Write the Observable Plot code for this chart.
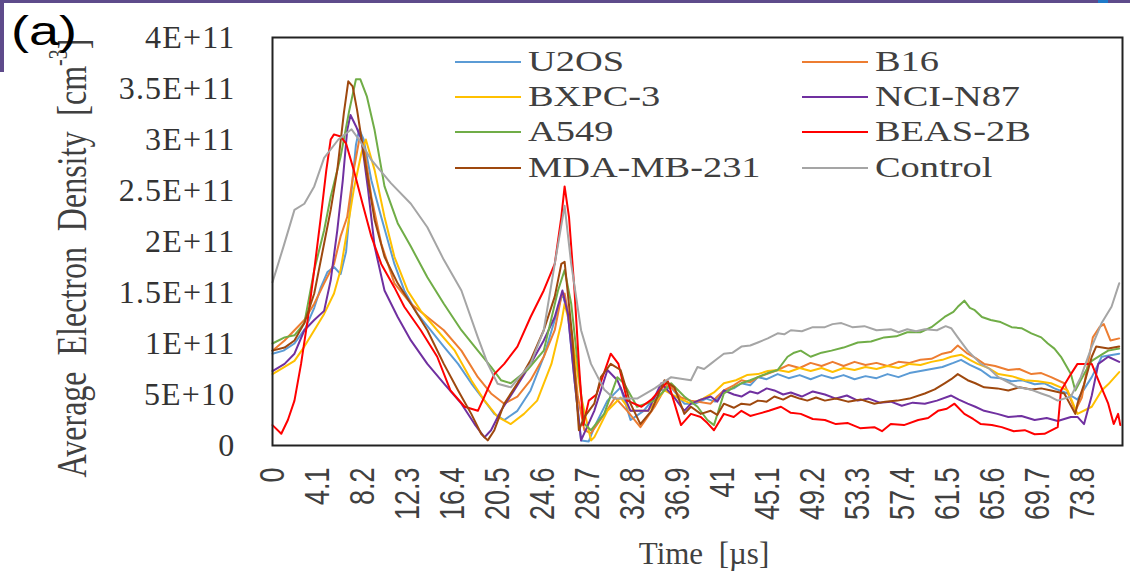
<!DOCTYPE html>
<html><head><meta charset="utf-8">
<script src="https://cdn.jsdelivr.net/npm/d3@7"></script>
<script src="https://cdn.jsdelivr.net/npm/@observablehq/plot@0.6"></script>
<style>
body{margin:0;background:#fff;}
#wrap{position:relative;width:1130px;height:572px;overflow:hidden;background:#fff;}
#wrap svg{position:absolute;left:0;top:0;}
.deco{position:absolute;background:#5e4b8b;}
.lab{position:absolute;font-family:"Liberation Sans",Arial,sans-serif;color:#000;}
.leg{position:absolute;height:0;}
.leg .sw{position:absolute;left:0;top:-1px;width:66px;height:0;border-top:2px solid;}
.leg .tx{position:absolute;left:73px;top:-19px;font-family:"Liberation Serif","Times New Roman",serif;font-size:30px;line-height:36px;color:#404040;white-space:nowrap;transform:scaleX(1.28);transform-origin:left center;}
</style></head><body><div id="wrap"></div><script>
// ---- data (values in units of 1E+10 cm^-3, time in µs) ----
const seriesNames = ["U2OS","B16","BXPC-3","NCI-N87","A549","BEAS-2B","MDA-MB-231","Control"];
const seriesColors = ["#5B9BD5","#ED7D31","#FFC000","#7030A0","#70AD47","#FF0000","#9E480E","#A5A5A5"];
const xTicks = [0,4.1,8.2,12.3,16.4,20.5,24.6,28.7,32.8,36.9,41,45.1,49.2,53.3,57.4,61.5,65.6,69.7,73.8];
const yTicks = [0,5e10,1e11,1.5e11,2e11,2.5e11,3e11,3.5e11,4e11];
const yTickLabels = ["0","5E+10","1E+11","1.5E+11","2E+11","2.5E+11","3E+11","3.5E+11","4E+11"];

const u2os = [[0,9.0],[1,9.3],[2,10.0],[3,11.5],[3.8,13.5],[4.4,15.5],[5.0,17.0],[5.6,17.5],[6.2,16.8],[6.7,19],[7.2,25],[7.6,29.5],[7.9,31.0],[8.3,30.0],[9.0,26.0],[9.9,22.4],[11.1,17.8],[12.0,15.2],[13.2,12.9],[14.4,11.3],[15.6,9.7],[16.9,8.0],[18.1,6.1],[19.3,4.4],[20.2,3.1],[21.1,2.5],[22.3,3.4],[23.5,5.4],[24.7,8.7],[25.7,12.3],[26.4,14.9],[26.9,12.9],[27.5,6.4],[28.1,0.5],[28.8,0.4],[29.3,1.8],[30.5,4.4],[31.7,5.7],[32.6,2.5],[33.8,3.4],[35.3,5.4],[36.3,5.7],[37.5,4.1],[38.5,4.1],[39.5,4.6],[40.3,4.3],[41.1,5.4],[42.0,5.6],[42.7,6.1],[43.5,5.9],[44.2,6.7],[45.0,6.5],[46.0,7.0],[47.0,6.6],[48.0,6.9],[49.0,6.5],[50.0,6.9],[51.0,6.6],[52.0,6.9],[53.0,6.5],[54.0,6.8],[55.0,6.6],[56.0,7.0],[57.0,6.7],[58.0,7.1],[59.0,7.3],[60.0,7.5],[61.0,7.7],[62.0,8.1],[62.7,8.4],[63.5,7.9],[64.5,7.4],[65.4,6.7],[66.3,6.6],[67.3,6.3],[68.3,6.4],[69.4,6.0],[70.3,6.1],[71.2,5.6],[72.4,5.1],[73.3,4.5],[74.6,6.7],[75.2,8.0],[75.5,8.7],[77.1,9.0]];
const b16 = [[0,9.3],[1.1,10.3],[2.0,11.3],[2.9,12.3],[3.8,13.9],[4.7,15.9],[5.6,17.8],[6.2,20.5],[6.8,22.4],[7.4,27.0],[7.9,30.0],[8.3,29.6],[9.0,24.4],[9.9,19.8],[11.1,15.9],[12.6,13.9],[14.1,12.6],[15.6,11.3],[17.2,9.3],[18.7,6.7],[19.9,5.1],[21.1,4.1],[22.3,4.8],[23.5,6.4],[24.7,8.7],[25.7,11.3],[26.3,14.6],[26.6,14.9],[27.2,11.3],[27.8,4.8],[28.4,1.5],[29.0,1.2],[30.5,3.5],[31.2,4.7],[32.3,3.4],[33.5,1.8],[34.8,3.8],[36.0,6.1],[37.2,4.7],[38.1,4.4],[39.9,4.1],[40.5,4.8],[41.1,5.4],[42.0,5.9],[42.7,6.4],[43.5,6.2],[44.2,6.7],[45.0,7.0],[46.0,7.4],[47.0,7.9],[48.0,7.6],[49.0,8.1],[50.0,7.8],[51.0,8.2],[52.0,7.8],[53.0,8.2],[54.0,7.9],[55.0,8.1],[56.0,7.8],[57.0,8.2],[58.0,8.1],[59.0,8.4],[60.0,8.5],[61.0,9.0],[61.8,9.2],[62.4,9.8],[63.3,9.0],[64.0,8.6],[64.8,8.0],[65.8,7.8],[67.0,7.4],[68.0,7.5],[69.1,7.0],[70.0,7.1],[70.9,6.7],[72.1,6.1],[73.1,3.4],[73.7,4.7],[74.3,8.3],[74.7,10.6],[75.3,11.6],[75.7,11.9],[76.3,10.3],[77.1,10.5]];
const bxpc3 = [[0,7.0],[1.1,7.7],[2.0,8.3],[2.9,9.7],[3.8,11.3],[4.7,12.9],[5.6,14.9],[6.2,17.2],[6.8,21.1],[7.4,25.1],[8.1,28.7],[8.5,30.0],[9.3,27.0],[10.2,22.4],[11.1,18.5],[12.3,15.2],[13.5,13.2],[15.0,11.3],[16.6,9.3],[18.1,6.4],[19.3,4.4],[20.5,2.8],[21.7,2.1],[22.9,3.1],[24.1,4.4],[25.4,8.0],[26.3,12.0],[26.6,13.9],[27.2,11.3],[28.1,4.8],[29.0,0.5],[29.3,0.8],[30.5,3.4],[31.7,4.7],[32.6,3.4],[34.2,3.4],[35.7,5.4],[36.9,4.7],[38.1,4.1],[39.2,4.6],[40.2,5.2],[41.1,6.1],[42.2,6.4],[43.2,6.9],[44.2,7.0],[45.1,7.3],[46.0,7.4],[47.0,7.2],[48.0,7.6],[49.0,7.3],[50.0,7.6],[51.0,7.2],[52.0,7.6],[53.0,7.4],[54.0,7.7],[55.0,7.5],[56.0,7.8],[57.0,7.6],[58.0,8.0],[59.0,7.9],[60.0,8.2],[61.0,8.4],[61.8,8.7],[62.7,8.9],[63.5,8.4],[64.2,8.0],[65.2,7.6],[66.1,7.0],[67.3,6.8],[68.5,6.4],[69.7,6.3],[70.9,6.1],[72.4,5.4],[73.3,3.1],[74.6,3.8],[75.5,5.4],[76.1,6.0],[77.1,7.2]];
const ncin87 = [[0,7.3],[1.1,8.0],[2.0,9.0],[2.9,11.3],[3.8,12.3],[4.7,13.2],[5.3,16.2],[5.9,21.1],[6.4,26.0],[6.8,30.9],[7.1,32.4],[7.6,31.3],[8.1,30.0],[8.7,25.1],[9.3,19.5],[10.2,15.2],[11.4,12.6],[12.6,10.3],[14.1,8.0],[15.6,6.1],[17.2,4.1],[18.4,2.1],[19.3,0.8],[19.9,1.5],[20.8,3.4],[22.0,5.4],[23.5,8.0],[24.7,10.3],[25.7,12.6],[26.4,15.2],[26.9,12.9],[27.5,6.4],[28.1,0.5],[29.3,3.4],[30.5,7.4],[31.4,6.4],[32.6,3.4],[34.2,3.4],[35.4,6.1],[36.6,4.7],[37.5,3.4],[38.1,4.1],[39.0,4.5],[39.9,4.8],[40.5,4.3],[41.1,5.4],[42.0,5.0],[42.7,4.8],[43.5,5.3],[44.2,5.1],[45.0,5.6],[45.7,5.4],[46.5,5.0],[47.2,5.2],[48.2,4.8],[49.2,5.3],[50.3,5.0],[51.3,4.6],[52.3,4.9],[53.3,4.4],[54.3,4.6],[55.3,4.2],[56.3,4.3],[57.3,3.9],[58.3,4.2],[59.4,4.1],[60.5,4.4],[61.8,4.9],[62.5,4.5],[63.3,4.1],[64.0,3.8],[64.8,3.4],[66.0,3.1],[67.0,2.8],[68.2,2.9],[69.4,2.5],[70.5,2.7],[71.5,2.4],[72.7,2.8],[73.3,2.8],[73.9,2.1],[74.6,4.9],[75.2,8.0],[76.1,8.7],[77.1,8.2]];
const a549 = [[0,10.0],[1.1,10.6],[2.0,10.8],[2.9,12.0],[3.8,17.2],[4.7,21.1],[5.3,24.4],[6.2,28.3],[7.0,32.9],[7.6,35.9],[8.0,35.9],[8.6,34.2],[9.3,30.9],[10.2,25.4],[11.4,21.8],[12.6,19.5],[14.1,16.5],[15.6,13.9],[17.2,11.3],[18.7,9.3],[19.9,7.7],[20.8,6.4],[21.7,6.1],[23.2,7.4],[24.7,9.3],[26.0,15.2],[26.6,17.2],[27.2,13.9],[27.8,8.0],[28.4,2.1],[29.0,1.5],[30.2,3.1],[31.4,6.7],[32.0,6.1],[33.2,3.8],[34.8,4.4],[36.3,6.1],[37.5,4.8],[38.7,3.8],[39.6,2.5],[40.2,2.0],[41.1,5.1],[42.0,5.7],[42.7,6.1],[43.5,6.4],[44.2,6.7],[45.1,7.1],[46.0,7.4],[46.9,8.7],[47.5,9.1],[48.1,9.3],[49.0,8.7],[50.0,9.1],[50.9,9.3],[52.0,9.6],[53.3,10.1],[54.5,10.2],[55.7,10.6],[56.8,10.7],[57.8,11.1],[59.0,11.1],[60.0,11.6],[61.2,12.6],[62.0,13.1],[62.4,13.6],[63.0,14.2],[63.5,13.5],[63.9,13.3],[64.6,12.6],[65.4,12.3],[66.3,12.1],[67.3,11.6],[68.2,11.5],[69.1,11.0],[70.0,10.6],[70.6,10.0],[71.2,9.5],[71.8,8.7],[72.7,7.0],[73.1,5.4],[73.9,7.0],[74.6,8.3],[75.5,8.9],[76.1,9.3],[77.1,9.5]];
const beas2b = [[0,2.0],[0.8,1.15],[1.4,2.5],[2.0,4.4],[2.6,8.0],[3.2,12.3],[3.8,17.2],[4.4,22.4],[4.9,27.0],[5.3,30.0],[5.6,30.5],[6.2,30.3],[6.7,29.6],[7.4,27.0],[8.2,23.7],[9.0,20.5],[9.9,17.8],[11.1,15.5],[12.0,13.6],[13.5,11.3],[15.0,8.7],[16.2,5.4],[17.5,3.8],[18.7,3.4],[19.3,4.8],[20.2,7.0],[21.1,8.0],[22.3,9.7],[23.5,12.6],[24.7,15.2],[25.7,17.8],[26.3,22.4],[26.6,25.4],[27.0,22.4],[27.5,15.2],[27.9,8.0],[28.3,2.0],[28.8,4.4],[29.5,5.0],[30.8,9.0],[31.5,8.0],[32.3,4.4],[33.6,3.8],[34.5,4.5],[36.0,6.3],[37.2,2.0],[38.1,3.1],[39.0,2.8],[39.6,2.2],[40.2,1.5],[41.1,3.1],[42.0,2.8],[42.7,3.4],[43.5,2.9],[44.2,3.1],[45.2,3.4],[46.3,3.8],[47.2,3.2],[48.1,3.1],[49.2,2.6],[50.3,2.5],[51.3,2.1],[52.4,2.2],[53.5,1.7],[54.8,1.8],[55.5,1.4],[56.3,2.1],[57.5,2.0],[58.8,2.5],[59.7,2.7],[60.6,3.4],[61.4,3.6],[62.1,4.1],[63.0,3.1],[63.8,2.6],[64.5,2.1],[65.5,2.0],[66.4,1.8],[67.5,1.4],[68.5,1.5],[69.4,1.1],[70.3,1.15],[71.5,1.8],[71.8,5.4],[72.7,7.0],[73.3,8.0],[74.6,8.0],[75.2,6.4],[76.1,4.1],[76.6,2.1],[77.0,3.1],[77.2,2.0]];
const mdamb231 = [[0,9.3],[1.1,9.6],[2.0,10.3],[2.9,12.0],[3.8,14.9],[4.7,19.8],[5.3,23.1],[5.9,27.0],[6.5,32.6],[6.9,35.7],[7.3,35.2],[7.7,32.9],[8.3,28.7],[9.3,22.1],[10.2,18.5],[11.4,15.9],[12.6,13.9],[14.1,11.3],[15.6,8.0],[16.9,5.4],[18.1,3.1],[19.0,1.15],[19.6,0.5],[20.2,1.5],[21.1,4.1],[22.3,6.1],[23.5,8.35],[24.7,11.3],[25.7,14.6],[26.3,17.8],[26.6,18.0],[27.3,10.6],[27.9,1.5],[28.4,2.8],[29.3,4.1],[29.9,6.7],[30.8,8.0],[31.7,7.4],[32.6,4.1],[33.5,2.1],[34.5,3.4],[35.7,6.4],[36.6,5.7],[37.5,3.1],[38.1,3.8],[39.0,3.1],[39.9,3.4],[40.5,3.0],[41.1,4.1],[42.0,3.7],[42.7,4.1],[43.5,4.0],[44.2,4.4],[45.0,4.3],[45.7,4.8],[46.5,4.5],[47.2,4.9],[48.0,4.6],[48.7,4.4],[49.5,4.7],[50.3,4.4],[51.3,4.6],[52.4,4.3],[53.6,4.5],[54.8,4.1],[55.8,4.3],[56.9,4.4],[58.0,4.6],[59.4,5.1],[60.3,5.5],[61.2,6.1],[61.8,6.5],[62.4,7.0],[63.3,6.4],[64.0,6.1],[64.8,5.7],[66.0,5.6],[67.0,5.4],[68.0,5.7],[69.1,5.5],[70.0,5.6],[70.9,5.4],[72.1,5.1],[73.1,3.1],[73.3,4.1],[73.9,6.0],[74.6,8.7],[75.0,9.7],[76.1,9.5],[77.1,9.7]];
const control = [[0,16.0],[1.0,19.5],[2.0,23.1],[2.9,23.7],[3.8,25.4],[4.7,28.2],[6.0,30.0],[7.2,31.0],[8.0,29.8],[9.0,28.0],[10.8,25.7],[12.6,23.7],[14.1,21.4],[15.6,18.2],[17.2,15.2],[18.7,10.6],[19.6,8.0],[20.5,6.06],[21.7,5.7],[23.5,8.0],[24.7,11.3],[25.7,17.8],[26.6,23.5],[27.2,17.8],[28.1,11.3],[29.0,8.0],[30.2,5.5],[31.1,4.6],[33.2,4.6],[34.8,5.6],[36.3,6.7],[38.1,6.4],[38.7,7.7],[39.3,7.5],[39.9,8.0],[40.5,8.5],[41.1,9.0],[41.9,9.1],[42.7,9.7],[43.5,9.8],[44.2,10.1],[45.1,10.5],[46.0,11.0],[46.6,10.9],[47.2,11.3],[48.2,11.2],[49.2,11.6],[50.3,11.6],[51.0,11.9],[51.8,12.0],[52.8,11.6],[53.9,11.7],[55.0,11.3],[56.3,11.4],[57.0,11.1],[57.8,11.4],[58.6,11.2],[59.4,11.4],[60.5,11.3],[61.3,11.7],[61.8,11.5],[62.4,10.6],[63.3,9.3],[64.5,8.0],[65.3,7.5],[66.1,6.7],[67.0,6.2],[67.9,5.7],[69.0,5.5],[70.0,5.1],[70.8,4.8],[71.5,4.4],[72.7,4.8],[73.6,6.7],[74.6,9.7],[75.5,12.0],[76.4,13.6],[77.1,15.9]];

const seriesData = [u2os,b16,bxpc3,ncin87,a549,beas2b,mdamb231,control];
const rows = seriesData.flatMap((arr,i)=>arr.map(([t,v])=>({series:seriesNames[i], t, v:v*1e10})));

const chart = Plot.plot({
  width:1130, height:572,
  marginLeft:272, marginRight:8, marginTop:37, marginBottom:127,
  style:{background:"transparent", fontFamily:"Liberation Serif, serif"},
  x:{domain:[0,77.4], ticks:xTicks, tickFormat:d=>String(d), label:null},
  y:{domain:[0,4e11], ticks:yTicks, tickFormat:d=>yTickLabels[yTicks.indexOf(d)], label:null},
  color:{domain:seriesNames, range:seriesColors},
  marks:[
    Plot.axisX({ticks:xTicks, tickFormat:d=>String(d), tickSize:0, tickPadding:22, tickRotate:-90, fontSize:27, fontFamily:"Liberation Sans, Arial, sans-serif", fill:"#404040", label:null}),
    Plot.axisY({ticks:yTicks, tickFormat:d=>yTickLabels[yTicks.indexOf(d)], tickSize:0, tickPadding:37, fontSize:32, fontFamily:"Liberation Serif, serif", fill:"#333", label:null}),
    Plot.line(rows,{x:"t", y:"v", z:"series", stroke:"series", strokeWidth:2, strokeLinejoin:"round"}),
    Plot.frame({stroke:"#222", strokeWidth:2})
  ]
});
const wrap = document.getElementById("wrap");
wrap.appendChild(chart);
const svg = d3.select(chart);
svg.selectAll('[aria-label="x-axis tick label"] text').each(function(){
  const tr = this.getAttribute("transform")||"";
  if (tr.includes("rotate")) this.setAttribute("transform", tr+" scale(1,1.3)");
});
svg.selectAll('[aria-label="y-axis tick label"] text').attr("letter-spacing","1.2px");

// y axis title
const yt = svg.append("text")
  .attr("transform","translate(86,258) rotate(-90) scale(1,1.35)")
  .attr("text-anchor","middle")
  .attr("font-family","Liberation Serif, serif").attr("font-size",32).attr("fill","#404040")
  .attr("xml:space","preserve");
yt.append("tspan").text("Average  Electron  Density  [cm");
yt.append("tspan").attr("font-size",20).attr("dy","-0.7em").text("-3");
yt.append("tspan").attr("dy","0.45em").text("]");
// x axis title
svg.append("text").attr("x",704).attr("y",564).attr("text-anchor","middle")
  .attr("font-family","Liberation Serif, serif").attr("font-size",31).attr("fill","#404040")
  .attr("xml:space","preserve").text("Time  [µs]");

// decorations
[[0,0,1130,3],[0,0,4,72]].forEach(([l,t,w,h])=>{const d=document.createElement("div");d.className="deco";Object.assign(d.style,{left:l+"px",top:t+"px",width:w+"px",height:h+"px"});wrap.appendChild(d);});
const bl=document.createElement("div");bl.className="deco";Object.assign(bl.style,{left:"1098px",top:"0px",width:"10px",height:"3px",background:"#1f7ac9"});wrap.appendChild(bl);
const al=document.createElement("div");al.className="lab";al.textContent="(a)";Object.assign(al.style,{left:"11px",top:"9px",fontSize:"40px",transform:"scaleX(1.35)",transformOrigin:"left top"});wrap.appendChild(al);

// legend (2 columns x 4 rows)
const legX=[455,802], legY=[62,97,132,168];
seriesNames.forEach((n,i)=>{
  const d=document.createElement("div");d.className="leg";
  d.style.left=legX[i%2]+"px";d.style.top=legY[Math.floor(i/2)]+"px";
  d.innerHTML=`<div class="sw" style="border-color:${seriesColors[i]}"></div><div class="tx">${n}</div>`;
  wrap.appendChild(d);
});
</script></body></html>
